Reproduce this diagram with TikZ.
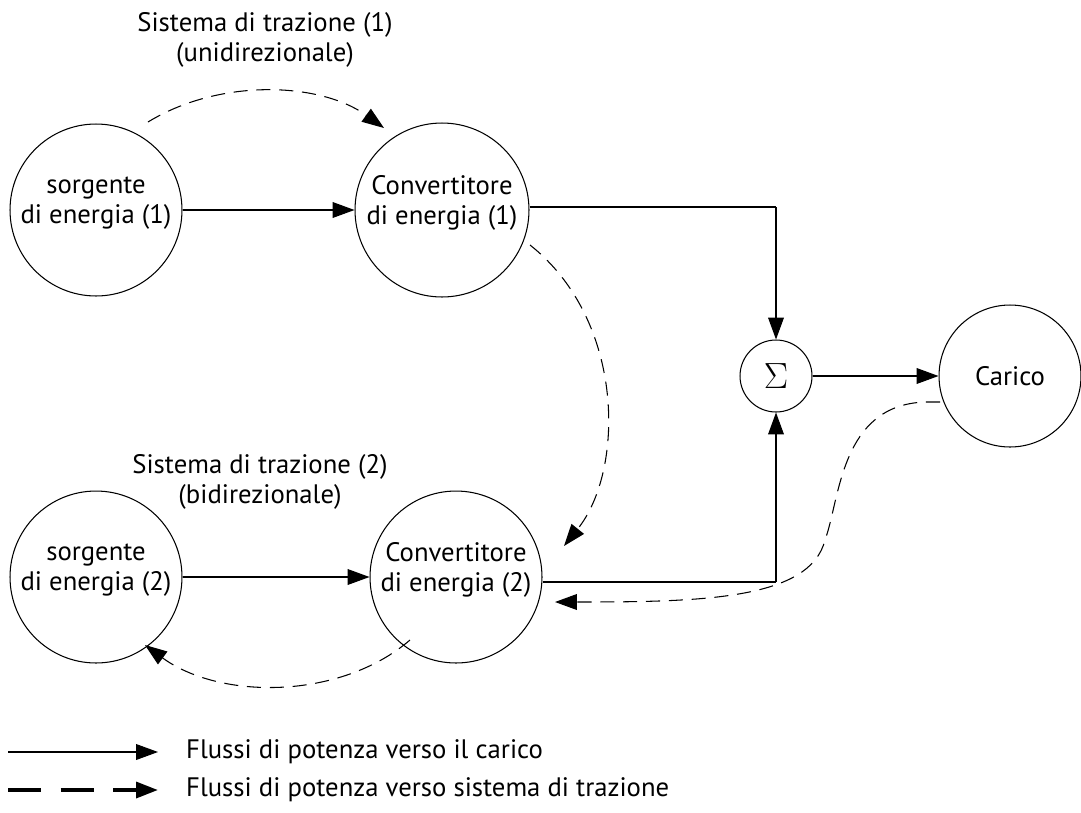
\documentclass[tikz,border=0pt]{standalone}
\usepackage{fontspec}
\setmainfont{PT Sans}
\usetikzlibrary{arrows.meta}
\begin{document}
\begin{tikzpicture}[x=0.02cm,y=-0.02cm,
  every node/.style={font=\fontsize{15.2}{17}\selectfont},
  blob/.style={draw,circle,line width=0.6pt,inner sep=0pt},
  flow/.style={line width=0.6pt,-{Triangle[length=12.5pt,width=9pt]}},
  back/.style={line width=0.6pt,dash pattern=on 8pt off 5pt,-{Triangle[length=12.5pt,width=9pt]}},
  lbl/.style={align=center,inner sep=0pt}]
\useasboundingbox (0,0) rectangle (1081,812);
\node[blob,minimum size=3.44cm] (s1) at (96,210) {};
\node[blob,minimum size=3.48cm] (c1) at (442,210) {};
\node[blob,minimum size=1.44cm,font=\fontsize{20}{20}\selectfont] (sig) at (776,376) {$\Sigma$};
\node[blob,minimum size=2.84cm] (car) at (1010,376) {Carico};
\node[blob,minimum size=3.44cm] (s2) at (96,577) {};
\node[blob,minimum size=3.44cm] (c2) at (456,577) {};
\node[lbl] (s1t) at ([yshift=0.14cm]s1.center) {sorgente\\di energia (1)};
\node[lbl] (c1t) at ([yshift=0.14cm]c1.center) {Convertitore\\di energia (1)};
\node[lbl] (s2t) at ([yshift=0.14cm]s2.center) {sorgente\\di energia (2)};
\node[lbl] (c2t) at ([yshift=0.14cm]c2.center) {Convertitore\\di energia (2)};
\node[lbl] (t1) at (265,40) {Sistema di trazione (1)\\(unidirezionale)};
\node[lbl] (t2) at (260,482) {Sistema di trazione (2)\\(bidirezionale)};
\coordinate (j1) at (776,207);
\coordinate (j2) at (776,582);
\draw[flow] (s1.east) -- (c1.west);
\draw[line width=0.6pt] (c1.east |- j1) -- (j1);
\draw[flow] (j1) -- (sig.north);
\draw[flow] (s2.east) -- (c2.west);
\draw[line width=0.6pt] (c2.east |- j2) -- (j2);
\draw[flow] (j2) -- (sig.south);
\draw[flow] (sig.east) -- (car.west);
\coordinate (a1) at (148,122);
\coordinate (a2) at (384,128);
\draw[back] (a1) .. controls (220,78) and (320,82) .. (a2);
\coordinate (b1) at (530,245);
\coordinate (b2) at (564,546);
\draw[back] (b1) .. controls (625,320) and (625,470) .. (b2);
\coordinate (d1) at (940,402);
\coordinate (d2) at (555,602);
\draw[back] (d1) -- (925,402) .. controls (840,405) and (840,500) .. (825,540) .. controls (810,600) and (700,602) .. (d2);
\coordinate (e1) at (410,640);
\coordinate (e2) at (145,645);
\draw[back] (e1) .. controls (340,700) and (220,700) .. (e2);
\coordinate (l1) at (8,752);
\coordinate (l2) at (158,752);
\coordinate (l3) at (8,790);
\coordinate (l4) at (158,790);
\draw[flow] (l1) -- (l2);
\draw[line width=2.2pt,dash pattern=on 19pt off 11pt,-{Triangle[length=12.5pt,width=9pt]}] (l3) -- (l4);
\node[anchor=west] (f1) at (180,752) {Flussi di potenza verso il carico};
\node[anchor=west] (f2) at (180,790) {Flussi di potenza verso sistema di trazione};
\end{tikzpicture}
\end{document}
